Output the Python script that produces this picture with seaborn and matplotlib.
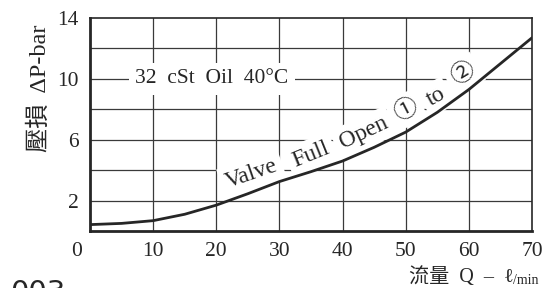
"""
Pressure drop vs flow rate chart (valve full open, 32 cSt oil)
"""

import matplotlib.pyplot as plt
import matplotlib.transforms as mtransforms
import pandas as pd
import seaborn as sns

# data
flow = [0, 5, 10, 15, 20, 25, 30, 35, 40, 45, 50, 55, 60, 65, 70]
pressure_drop = [0.42, 0.5, 0.68, 1.1, 1.7, 2.45, 3.25, 3.9, 4.6, 5.5, 6.5, 7.8, 9.3, 11.0, 12.7]

x_ticks = [0, 10, 20, 30, 40, 50, 60, 70]
y_ticks = [2, 6, 10, 14]
y_grid = [2, 4, 6, 8, 10, 12]
x_grid = [10, 20, 30, 40, 50, 60]

curve_words = ["Valve", "Full", "Open", "①", "to", "②"]
word_pos = [(25.6, 3.75), (35.0, 5.0), (43.3, 6.45), (50.0, 7.95), (54.8, 8.8), (59.1, 10.3)]
word_rot = [19, 22, 25, 27, 29, 31]

sns.set_theme(style="white")
plt.rcParams["font.family"] = ["Liberation Serif", "Noto Sans CJK TC", "DejaVu Sans"]

ink = "#262626"
fig = plt.figure(figsize=(5.44, 2.88), dpi=100)
ax = fig.add_axes([90 / 544, 57 / 288, 442 / 544, 213 / 288])

df = pd.DataFrame({"Q": flow, "dP": pressure_drop})
sns.lineplot(data=df, x="Q", y="dP", ax=ax, color=ink, lw=2.0, zorder=6)

for v in x_grid:
    ax.axvline(v, color="#3a3a3a", lw=0.9, zorder=1)
for v in y_grid:
    ax.axhline(v, color="#3a3a3a", lw=0.9, zorder=1)

ax.set_xlim(0, 70)
ax.set_ylim(0, 14)
ax.set_xticks(x_ticks)
ax.set_xticklabels([str(t) for t in x_ticks])
ax.set_yticks(y_ticks)
ax.set_yticklabels([str(t) for t in y_ticks])
ax.tick_params(axis="both", length=0, labelsize=15.5, colors=ink)
ax.tick_params(axis="x", pad=8)
ax.tick_params(axis="y", pad=8)
ax.set_xlabel("")
ax.set_ylabel("")

# origin label sits left of the corner
lab0 = ax.get_xticklabels()[0]
lab0.set_transform(lab0.get_transform() + mtransforms.ScaledTranslation(-0.13, 0, fig.dpi_scale_trans))

for side in ["left", "bottom"]:
    ax.spines[side].set_linewidth(2.0)
    ax.spines[side].set_color(ink)
for side in ["top", "right"]:
    ax.spines[side].set_linewidth(1.2)
    ax.spines[side].set_color(ink)

box = dict(boxstyle="square,pad=0.22", fc="white", ec="none")
ax.text(19.3, 10, "32  cSt  Oil  40°C", ha="center", va="center", fontsize=15.5,
        color=ink, bbox=dict(boxstyle="square,pad=0.3", fc="white", ec="none"), zorder=3)

for word, (qx, py), rot in zip(curve_words, word_pos, word_rot):
    ax.text(qx, py, word, ha="center", va="center", fontsize=17, rotation=rot,
            rotation_mode="anchor", color=ink, bbox=box, zorder=3)

fig.text(40 / 544, 1 - 88 / 288, "壓損  ΔP-bar", rotation=90, ha="center", va="center",
         fontsize=17.5, color=ink)
fig.text(514 / 544, 1 - 277 / 288, "流量  Q  –  ℓ", ha="right", va="center",
         fontsize=14.5, color=ink)
fig.text(513 / 544, 1 - 281 / 288, "/min", ha="left", va="center", fontsize=10, color=ink)

# page number cut off at the bottom edge
fig.text(10 / 544, -13 / 288, "003", ha="left", va="baseline", fontsize=21,
         color=ink, family="DejaVu Sans")

fig.savefig("out.png", dpi=100)
